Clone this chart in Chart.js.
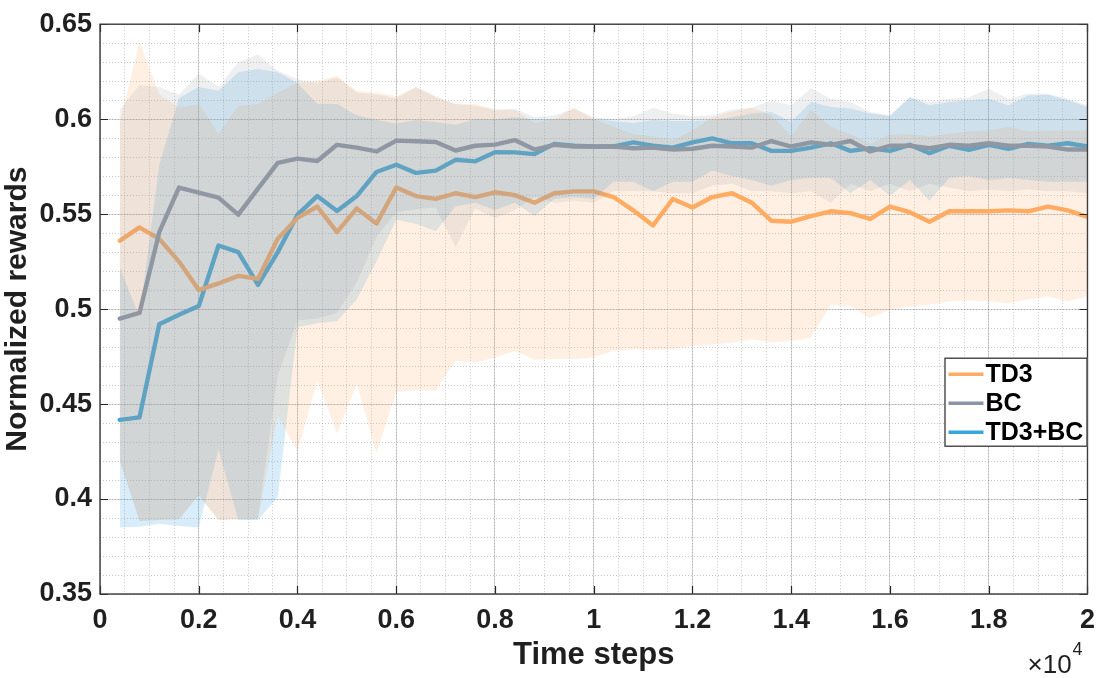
<!DOCTYPE html>
<html>
<head>
<meta charset="utf-8">
<script src="https://cdn.jsdelivr.net/npm/chart.js@4.4.0/dist/chart.umd.min.js"></script>
<style>
  html, body { margin: 0; padding: 0; background: #ffffff; }
  #wrap { width: 1105px; height: 678px; }
</style>
</head>
<body>
<div id="wrap"><canvas id="c" width="1105" height="678"></canvas></div>
<script>
// ---- data (time steps; axis shown in units of 10^4) ----
const steps = [400,800,1200,1600,2000,2400,2800,3200,3600,4000,
  4400,4800,5200,5600,6000,6400,6800,7200,7600,8000,
  8400,8800,9200,9600,10000,10400,10800,11200,11600,12000,
  12400,12800,13200,13600,14000,14400,14800,15200,15600,16000,
  16400,16800,17200,17600,18000,18400,18800,19200,19600,20000];

const xTickLabels = ['0','0.2','0.4','0.6','0.8','1','1.2','1.4','1.6','1.8','2'];
const yTickLabels = ['0.35','0.4','0.45','0.5','0.55','0.6','0.65'];

const td3Mean = [0.536,0.543,0.537,0.525,0.510,0.5135,0.5175,0.516,0.537,0.548,
  0.554,0.5405,0.553,0.545,0.564,0.5595,0.558,0.561,0.559,0.5615,
  0.560,0.556,0.561,0.562,0.562,0.559,0.552,0.544,0.558,0.5535,
  0.559,0.561,0.556,0.5465,0.546,0.549,0.5515,0.5505,0.5475,0.554,
  0.551,0.546,0.5515,0.5515,0.5515,0.552,0.5515,0.554,0.552,0.5485];
const td3Upper = [0.598,0.641,0.613,0.606,0.608,0.5925,0.607,0.608,0.614,0.619,
  0.620,0.623,0.615,0.614,0.612,0.617,0.612,0.608,0.608,0.605,
  0.605,0.598,0.600,0.606,0.600,0.596,0.592,0.591,0.589,0.594,
  0.601,0.604,0.606,0.602,0.591,0.605,0.596,0.592,0.587,0.592,
  0.592,0.591,0.5925,0.5935,0.594,0.596,0.5935,0.594,0.594,0.594];
const td3Lower = [0.420,0.3885,0.389,0.3894,0.402,0.389,0.3894,0.3894,0.444,0.425,
  0.4623,0.4345,0.4606,0.4241,0.4563,0.4571,0.4571,0.4727,0.4719,0.4745,
  0.478,0.4733,0.4736,0.4736,0.4745,0.478,0.4788,0.4785,0.4788,0.4806,
  0.4814,0.4823,0.484,0.4826,0.4832,0.4849,0.5023,0.5014,0.4953,0.4997,
  0.5014,0.5023,0.504,0.5045,0.504,0.5031,0.5049,0.5066,0.504,0.5066];

const bcMean = [0.495,0.498,0.5405,0.564,0.5613,0.5587,0.5497,0.5634,0.577,0.5792,
  0.578,0.5865,0.585,0.583,0.5887,0.5884,0.588,0.5835,0.586,0.5866,
  0.589,0.584,0.5865,0.5856,0.5856,0.5856,0.5847,0.585,0.584,0.5844,
  0.586,0.5856,0.585,0.5885,0.5856,0.5878,0.5865,0.5885,0.583,0.586,
  0.586,0.5847,0.5865,0.586,0.5873,0.586,0.586,0.5856,0.584,0.584];
const bcUpper = [0.605,0.618,0.617,0.613,0.624,0.617,0.630,0.634,0.6255,0.621,
  0.619,0.622,0.614,0.613,0.611,0.617,0.6115,0.608,0.607,0.605,
  0.6055,0.601,0.602,0.6055,0.601,0.600,0.6015,0.606,0.603,0.6015,
  0.602,0.605,0.606,0.610,0.6073,0.6163,0.6108,0.609,0.6038,0.602,
  0.6116,0.609,0.6108,0.6116,0.616,0.6108,0.6134,0.6134,0.6108,0.6073];
const bcLower = [0.420,0.3885,0.389,0.3894,0.402,0.389,0.3894,0.3894,0.465,0.494,
  0.495,0.498,0.514,0.538,0.551,0.5526,0.5535,0.5326,0.553,0.548,
  0.552,0.559,0.556,0.557,0.556,0.562,0.562,0.562,0.561,0.561,
  0.565,0.566,0.562,0.562,0.561,0.562,0.556,0.566,0.562,0.566,
  0.562,0.566,0.564,0.562,0.563,0.562,0.563,0.562,0.562,0.561];

const bothMean = [0.4417,0.443,0.492,0.497,0.5016,0.5335,0.530,0.5127,0.530,0.5497,
  0.5595,0.5517,0.5595,0.5722,0.576,0.5717,0.5729,0.5786,0.5778,0.5826,
  0.5825,0.5816,0.587,0.586,0.5856,0.5856,0.5878,0.5861,0.585,0.5878,
  0.5899,0.5873,0.5873,0.5833,0.5833,0.585,0.5873,0.5833,0.5847,0.5833,
  0.5865,0.5821,0.586,0.5839,0.5865,0.5844,0.587,0.5861,0.5873,0.5856];
const bothUpper = [0.522,0.496,0.576,0.611,0.617,0.615,0.6247,0.6264,0.6247,0.619,
  0.6081,0.608,0.602,0.5995,0.5977,0.5995,0.5985,0.597,0.600,0.600,
  0.601,0.600,0.600,0.600,0.600,0.599,0.598,0.5995,0.599,0.599,
  0.5995,0.601,0.603,0.6038,0.5986,0.609,0.6064,0.6056,0.603,0.6017,
  0.6116,0.6073,0.609,0.6099,0.6108,0.6073,0.6125,0.6128,0.6099,0.6064];
const bothLower = [0.385,0.3854,0.387,0.3858,0.385,0.426,0.389,0.389,0.401,0.4905,
  0.4925,0.4936,0.505,0.525,0.547,0.545,0.541,0.554,0.556,0.552,
  0.556,0.549,0.558,0.559,0.558,0.567,0.567,0.562,0.567,0.567,
  0.573,0.570,0.568,0.565,0.568,0.569,0.569,0.561,0.568,0.5595,
  0.568,0.557,0.569,0.570,0.568,0.569,0.568,0.567,0.567,0.567];

const seriesNames = ['TD3', 'BC', 'TD3+BC'];

// ---- styles ----
const FONT = '"Liberation Sans", Arial, Helvetica, sans-serif';
const TEXT = '#1f1f1f';
const colTD3 = 'rgb(255,172,100)';
const colBC = 'rgb(138,147,167)';
const colBoth = 'rgb(56,166,222)';
const fillTD3 = 'rgba(255,165,90,0.17)';
const fillBC = 'rgba(140,145,160,0.15)';
const fillBoth = 'rgba(60,165,225,0.2)';
const NONE = 'rgba(0,0,0,0)';

const pts = arr => steps.map((s, i) => ({x: s, y: arr[i]}));
const meanDs = (label, arr, color) => ({
  label, data: pts(arr), borderColor: color, backgroundColor: color,
  borderWidth: 4.4, pointRadius: 0, fill: false, tension: 0,
  borderJoinStyle: 'round', borderCapStyle: 'round', isMain: true,
  xAxisID: 'x', yAxisID: 'y'
});
const bandDs = (label, arr, fillColor, fill) => ({
  label, data: pts(arr), borderColor: NONE, backgroundColor: fillColor,
  borderWidth: 0, pointRadius: 0, fill, tension: 0,
  xAxisID: 'x', yAxisID: 'y'
});

// Chart.js draws the last dataset first: mean lines first, then translucent bands over them
const datasets = [
  bandDs('BC upper', bcUpper, fillBC, '+1'),
  bandDs('BC lower', bcLower, NONE, false),
  bandDs('TD3 upper', td3Upper, fillTD3, '+1'),
  bandDs('TD3 lower', td3Lower, NONE, false),
  bandDs('TD3+BC upper', bothUpper, fillBoth, '+1'),
  bandDs('TD3+BC lower', bothLower, NONE, false),
  meanDs('BC', bcMean, colBC),
  meanDs('TD3', td3Mean, colTD3),
  meanDs('TD3+BC', bothMean, colBoth)
];

const framePlugin = {
  id: 'frame',
  afterDraw(chart) {
    const {ctx, chartArea: a, scales} = chart;
    ctx.save();
    // inward tick marks on all four sides
    ctx.strokeStyle = '#262626';
    ctx.lineWidth = 1.2;
    const tl = 8;
    ctx.beginPath();
    scales.x.ticks.forEach(t => {
      const px = Math.round(scales.x.getPixelForValue(t.value)) + 0.5;
      ctx.moveTo(px, a.bottom); ctx.lineTo(px, a.bottom - tl);
      ctx.moveTo(px, a.top); ctx.lineTo(px, a.top + tl);
    });
    scales.y.ticks.forEach(t => {
      const py = Math.round(scales.y.getPixelForValue(t.value)) + 0.5;
      ctx.moveTo(a.left, py); ctx.lineTo(a.left + tl, py);
      ctx.moveTo(a.right, py); ctx.lineTo(a.right - tl, py);
    });
    ctx.stroke();
    // box
    ctx.strokeStyle = '#3c3c3c';
    ctx.lineWidth = 1.4;
    ctx.strokeRect(a.left, a.top, a.right - a.left, a.bottom - a.top);

    // legend
    const lw = 143, lh = 89;
    const lx = a.right - lw, ly = a.top + 333.5;
    ctx.fillStyle = '#ffffff';
    ctx.fillRect(lx, ly, lw, lh);
    ctx.strokeStyle = '#262626';
    ctx.lineWidth = 1.2;
    ctx.strokeRect(lx + 0.5, ly + 0.5, lw - 1, lh - 1);
    ctx.font = 'bold 25px ' + FONT;
    ctx.textBaseline = 'middle';
    ctx.textAlign = 'left';
    seriesNames.forEach((name, k) => {
      const ds = chart.data.datasets.find(d => d.isMain && d.label === name);
      const y = ly + 16.5 + k * 29;
      ctx.strokeStyle = ds.borderColor;
      ctx.lineWidth = 3.6;
      ctx.beginPath();
      ctx.moveTo(lx + 4, y); ctx.lineTo(lx + 39, y);
      ctx.stroke();
      ctx.fillStyle = '#000000';
      ctx.fillText(name, lx + 41, y + 1);
    });

    // exponent label
    ctx.fillStyle = TEXT;
    ctx.textBaseline = 'alphabetic';
    ctx.font = '26px ' + FONT;
    const base = '\u00d710';
    const bx = a.right - 60;
    ctx.fillText(base, bx, 673);
    const w = ctx.measureText(base).width;
    ctx.font = '18px ' + FONT;
    ctx.fillText('4', bx + w + 1, 655);
    ctx.restore();
  }
};

new Chart(document.getElementById('c'), {
  type: 'line',
  data: { datasets },
  options: {
    responsive: false,
    animation: false,
    devicePixelRatio: 1,
    layout: { padding: { left: 0, top: 18, right: 14, bottom: 0 } },
    plugins: { legend: { display: false }, tooltip: { enabled: false } },
    elements: { line: { borderJoinStyle: 'round' } },
    scales: {
      x: {
        type: 'linear', position: 'bottom', min: 0, max: 20000,
        ticks: {
          stepSize: 2000, padding: 10, maxRotation: 0, autoSkip: false,
          color: TEXT, font: { family: FONT, size: 27, weight: 'bold' },
          callback: (v) => xTickLabels[Math.round(v / 2000)] ?? ''
        },
        grid: { color: 'rgba(0,0,0,0.15)', lineWidth: 1, drawTicks: false },
        border: { display: false },
        title: {
          display: true, text: 'Time steps', color: TEXT,
          font: { family: FONT, size: 31, weight: 'bold', lineHeight: 1.2 },
          padding: { top: 0, bottom: 4 }
        },
        afterFit: (s) => { s.height = 84; }
      },
      xm: {
        type: 'linear', position: 'bottom', min: 0, max: 20000,
        ticks: { display: false, stepSize: 500 },
        grid: { color: 'rgba(0,0,0,0.22)', lineWidth: 1, drawTicks: false },
        border: { display: false, dash: [1, 2] }
      },
      y: {
        type: 'linear', position: 'left', min: 0.35, max: 0.65,
        ticks: {
          stepSize: 0.05, padding: 8, color: TEXT,
          font: { family: FONT, size: 27, weight: 'bold' },
          callback: (v) => yTickLabels[Math.round((v - 0.35) / 0.05)] ?? ''
        },
        grid: { color: 'rgba(0,0,0,0.15)', lineWidth: 1, drawTicks: false },
        border: { display: false },
        title: {
          display: true, text: 'Normalized rewards', color: TEXT,
          font: { family: FONT, size: 30, weight: 'bold', lineHeight: 1.15 },
          padding: { top: 0, bottom: 0 }
        },
        afterFit: (s) => { s.width = 100; }
      },
      ym: {
        type: 'linear', position: 'left', min: 0.35, max: 0.65,
        ticks: { display: false, stepSize: 0.01 },
        grid: { color: 'rgba(0,0,0,0.22)', lineWidth: 1, drawTicks: false },
        border: { display: false, dash: [1, 2] }
      }
    }
  },
  plugins: [framePlugin]
});
</script>
</body>
</html>
